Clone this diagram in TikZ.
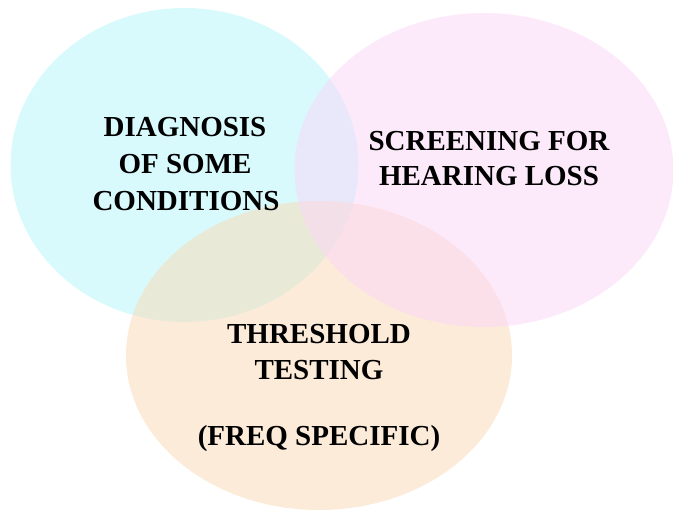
\documentclass[tikz,border=0pt]{standalone}
\usepackage{fontspec}
\setmainfont{Liberation Serif}
\begin{document}
\begin{tikzpicture}[x=1pt,y=-1pt,
  blob/.style={fill opacity=0.5, draw=none},
  lbl/.style={anchor=base, inner sep=0pt, font=\bfseries\fontsize{29}{36}\selectfont, text=black}]
\definecolor{cyanc}{RGB}{179,247,251}
\definecolor{peachc}{RGB}{251,217,181}
\definecolor{pinkc}{RGB}{251,215,249}
\useasboundingbox (0,0) rectangle (673,512);
\fill[white] (0,0) rectangle (673,512);
\begin{scope}
\clip (0,0) rectangle (673,512);
\fill[blob, cyanc] (184.5,165) ellipse [x radius=174, y radius=157];
\fill[blob, peachc] (319,355.5) ellipse [x radius=193, y radius=154.5];
\fill[blob, pinkc] (484,170) ellipse [x radius=189.5, y radius=157];
\end{scope}
\node[lbl] (d1) at (185,136.7) {DIAGNOSIS};
\node[lbl] (d2) at (185,173.3) {OF SOME};
\node[lbl] (d3) at (186,210) {CONDITIONS};
\node[lbl] (s1) at (489,150) {SCREENING FOR};
\node[lbl] (s2) at (489,185) {HEARING LOSS};
\node[lbl] (t1) at (319,343.3) {THRESHOLD};
\node[lbl] (t2) at (319,379) {TESTING};
\node[lbl] (t3) at (319,445) {(FREQ SPECIFIC)};
\end{tikzpicture}
\end{document}
